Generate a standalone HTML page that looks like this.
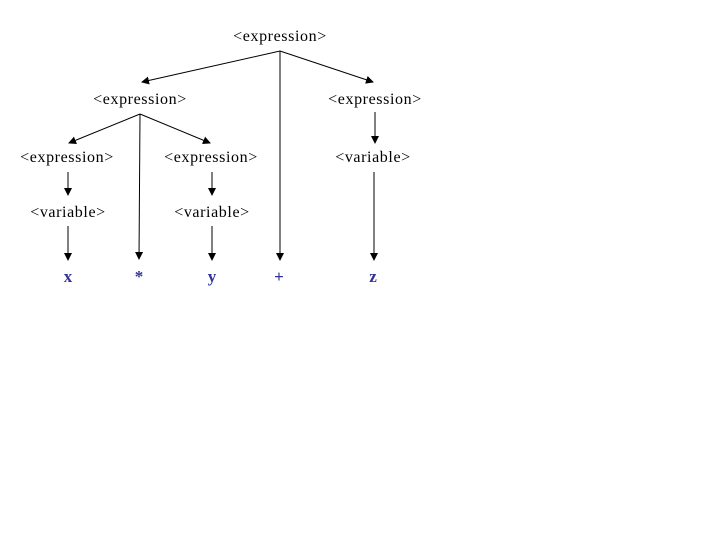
<!DOCTYPE html>
<html><head><style>
html,body{margin:0;padding:0;background:#fff;width:720px;height:540px;overflow:hidden}
svg text{font-family:"Liberation Serif",serif;font-size:16px;letter-spacing:0.6px;text-anchor:middle}
.b{fill:#333399;font-size:17px;font-weight:bold;letter-spacing:0}
</style></head><body>
<svg width="720" height="540" xmlns="http://www.w3.org/2000/svg">
<defs><marker id="a" markerWidth="8" markerHeight="8" refX="7" refY="4" orient="auto" markerUnits="userSpaceOnUse"><path d="M0,0 L8,4 L0,8 z" fill="#000"/></marker></defs>
<g stroke="#000" stroke-width="1" marker-end="url(#a)">
<line x1="280" y1="51" x2="142" y2="82"/>
<line x1="280" y1="51" x2="280" y2="260"/>
<line x1="280" y1="51" x2="373" y2="82"/>
<line x1="140" y1="114" x2="69" y2="143"/>
<line x1="140" y1="114" x2="139" y2="259"/>
<line x1="140" y1="114" x2="210" y2="143"/>
<line x1="68" y1="172" x2="68" y2="195"/>
<line x1="212" y1="172" x2="212" y2="195"/>
<line x1="375" y1="112" x2="375" y2="143"/>
<line x1="68" y1="226" x2="68" y2="260"/>
<line x1="212" y1="226" x2="212" y2="260"/>
<line x1="374" y1="172" x2="374" y2="260"/>
</g>
<text x="280" y="41">&lt;expression&gt;</text>
<text x="140" y="104">&lt;expression&gt;</text>
<text x="375" y="104">&lt;expression&gt;</text>
<text x="67" y="162">&lt;expression&gt;</text>
<text x="211" y="162">&lt;expression&gt;</text>
<text x="373" y="162">&lt;variable&gt;</text>
<text x="68" y="217">&lt;variable&gt;</text>
<text x="212" y="217">&lt;variable&gt;</text>
<text class="b" x="68" y="282">x</text>
<text class="b" x="139" y="282">*</text>
<text class="b" x="212" y="282">y</text>
<text class="b" x="279" y="282">+</text>
<text class="b" x="373" y="282">z</text>
</svg>
</body></html>
